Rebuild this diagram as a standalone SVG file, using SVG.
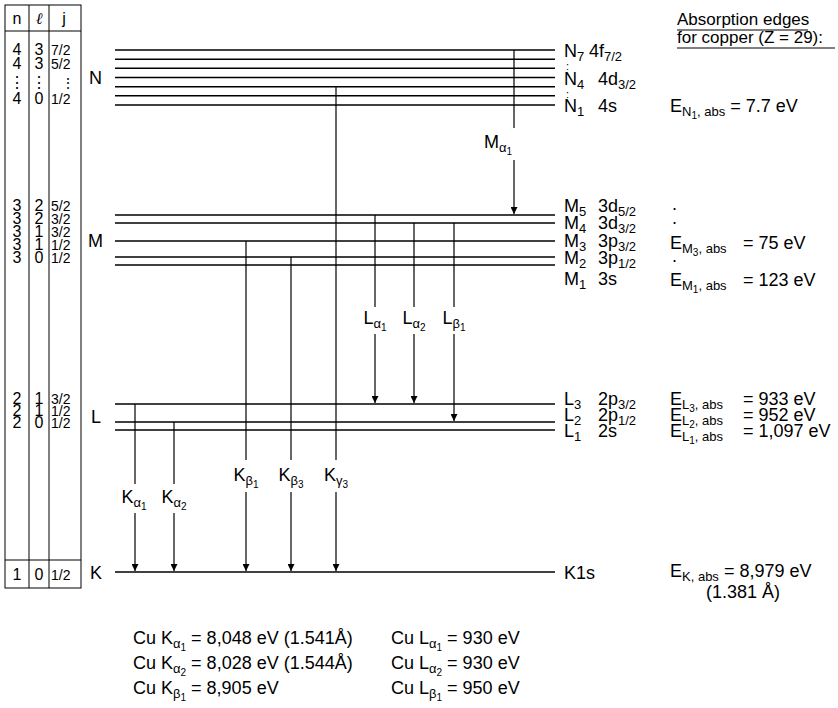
<svg xmlns="http://www.w3.org/2000/svg" width="838" height="708" viewBox="0 0 838 708">
<defs>
<style>
text{font-family:"Liberation Sans",Arial,sans-serif;fill:#000}
.t{font-size:18px}
.h{font-size:17px}
.tb{font-size:16px}
.tj{font-size:14px}
.lv{stroke:#000;stroke-width:1.5;fill:none}
.tr{stroke:#000;stroke-width:1.2;fill:none}
.ar{stroke:#000;stroke-width:1.2;fill:none;marker-end:url(#ah)}
.bx{stroke:#000;stroke-width:1;fill:none}
</style>
<marker id="ah" viewBox="0 0 10 10" refX="10" refY="5" markerWidth="7" markerHeight="7" markerUnits="userSpaceOnUse" orient="auto">
<path d="M0,0 L10,5 L0,10 z" fill="#000"/>
</marker>
</defs>
<rect width="838" height="708" fill="#fff"/>

<g id="table">
<rect class="bx" x="5" y="5" width="76" height="583"/>
<line class="bx" x1="29" y1="5" x2="29" y2="588"/>
<line class="bx" x1="49" y1="5" x2="49" y2="588"/>
<line class="bx" x1="5" y1="31" x2="81" y2="31"/>
<line class="bx" x1="5" y1="560" x2="81" y2="560"/>
<text class="tb" x="17" y="24" text-anchor="middle">n</text>
<text x="39" y="24" text-anchor="middle" style="font-family:'Liberation Serif',serif;font-style:italic;font-size:16px">ℓ</text>
<text class="tb" x="64" y="24" text-anchor="middle">j</text>
<g class="tb" text-anchor="middle">
<text x="17" y="55">4</text><text x="39" y="55">3</text>
<text x="17" y="69">4</text><text x="39" y="69">3</text>
<text x="17" y="88">⋮</text><text x="39" y="88">⋮</text>
<text x="17" y="104">4</text><text x="39" y="104">0</text>
<text x="17" y="211">3</text><text x="39" y="211">2</text>
<text x="17" y="224">3</text><text x="39" y="224">2</text>
<text x="17" y="237">3</text><text x="39" y="237">1</text>
<text x="17" y="250">3</text><text x="39" y="250">1</text>
<text x="17" y="263">3</text><text x="39" y="263">0</text>
<text x="17" y="404">2</text><text x="39" y="404">1</text>
<text x="17" y="416">2</text><text x="39" y="416">1</text>
<text x="17" y="428">2</text><text x="39" y="428">0</text>
<text x="17" y="580">1</text><text x="39" y="580">0</text>
</g>
<g class="tj">
<text x="51" y="55">7/2</text>
<text x="51" y="69">5/2</text>
<text x="61" y="88">⋮</text>
<text x="51" y="104">1/2</text>
<text x="51" y="211">5/2</text>
<text x="51" y="224">3/2</text>
<text x="51" y="237">3/2</text>
<text x="51" y="250">1/2</text>
<text x="51" y="263">1/2</text>
<text x="51" y="404">3/2</text>
<text x="51" y="416">1/2</text>
<text x="51" y="428">1/2</text>
<text x="51" y="580">1/2</text>
</g>
<g class="t">
<text x="89" y="84">N</text>
<text x="88" y="247">M</text>
<text x="91" y="423">L</text>
<text x="90" y="579">K</text>
</g>
</g>

<g id="levels">
<line class="lv" x1="115" y1="50" x2="555" y2="50"/>
<line class="lv" x1="115" y1="59.2" x2="555" y2="59.2"/>
<line class="lv" x1="115" y1="68.3" x2="555" y2="68.3"/>
<line class="lv" x1="115" y1="77.5" x2="555" y2="77.5"/>
<line class="lv" x1="115" y1="86.7" x2="555" y2="86.7"/>
<line class="lv" x1="115" y1="95.8" x2="555" y2="95.8"/>
<line class="lv" x1="115" y1="105" x2="555" y2="105"/>
<line class="lv" x1="115" y1="215" x2="555" y2="215"/>
<line class="lv" x1="115" y1="223" x2="555" y2="223"/>
<line class="lv" x1="115" y1="241" x2="555" y2="241"/>
<line class="lv" x1="115" y1="257" x2="555" y2="257"/>
<line class="lv" x1="115" y1="265" x2="555" y2="265"/>
<line class="lv" x1="115" y1="404" x2="555" y2="404"/>
<line class="lv" x1="115" y1="422" x2="555" y2="422"/>
<line class="lv" x1="115" y1="430" x2="555" y2="430"/>
<line class="lv" x1="115" y1="572" x2="555" y2="572"/>
</g>

<g id="level-labels" class="t">
<text x="564" y="57">N<tspan font-size="13" dy="4">7</tspan><tspan dy="-4" x="589">4f</tspan><tspan font-size="13" dy="4">7/2</tspan></text>
<text x="566" y="70" font-size="11">:</text>
<text x="564" y="85">N<tspan font-size="13" dy="4">4</tspan><tspan dy="-4" x="598">4d</tspan><tspan font-size="13" dy="4">3/2</tspan></text>
<text x="566" y="98" font-size="11">:</text>
<text x="564" y="112">N<tspan font-size="13" dy="4">1</tspan><tspan dy="-4" x="598">4s</tspan></text>
<text x="564" y="212">M<tspan font-size="13" dy="4">5</tspan><tspan dy="-4" x="598">3d</tspan><tspan font-size="13" dy="4">5/2</tspan></text>
<text x="564" y="229">M<tspan font-size="13" dy="4">4</tspan><tspan dy="-4" x="598">3d</tspan><tspan font-size="13" dy="4">3/2</tspan></text>
<text x="564" y="247">M<tspan font-size="13" dy="4">3</tspan><tspan dy="-4" x="598">3p</tspan><tspan font-size="13" dy="4">3/2</tspan></text>
<text x="564" y="264">M<tspan font-size="13" dy="4">2</tspan><tspan dy="-4" x="598">3p</tspan><tspan font-size="13" dy="4">1/2</tspan></text>
<text x="564" y="285">M<tspan font-size="13" dy="4">1</tspan><tspan dy="-4" x="598">3s</tspan></text>
<text x="564" y="405">L<tspan font-size="13" dy="4">3</tspan><tspan dy="-4" x="598">2p</tspan><tspan font-size="13" dy="4">3/2</tspan></text>
<text x="564" y="421">L<tspan font-size="13" dy="4">2</tspan><tspan dy="-4" x="598">2p</tspan><tspan font-size="13" dy="4">1/2</tspan></text>
<text x="564" y="437">L<tspan font-size="13" dy="4">1</tspan><tspan dy="-4" x="598">2s</tspan></text>
<text x="564" y="579">K1s</text>
</g>

<g id="absorption" class="t">
<text class="h" x="677" y="25">Absorption edges</text>
<line class="bx" x1="677" y1="30" x2="808" y2="30"/>
<text class="h" x="677" y="43">for copper (Z = 29):</text>
<line class="bx" x1="677" y1="48" x2="835" y2="48"/>
<text x="670" y="112">E<tspan font-size="13" dy="4">N</tspan><tspan font-size="10" dy="3">1</tspan><tspan font-size="13" dy="-3">, abs</tspan><tspan dy="-4"> = 7.7 eV</tspan></text>
<text x="672" y="210">.</text>
<text x="672" y="224">.</text>
<text x="670" y="249">E<tspan font-size="13" dy="4">M</tspan><tspan font-size="10" dy="3">3</tspan><tspan font-size="13" dy="-3">, abs</tspan><tspan dy="-4" x="743">= 75 eV</tspan></text>
<text x="672" y="262">.</text>
<text x="670" y="286">E<tspan font-size="13" dy="4">M</tspan><tspan font-size="10" dy="3">1</tspan><tspan font-size="13" dy="-3">, abs</tspan><tspan dy="-4" x="743">= 123 eV</tspan></text>
<text x="670" y="405">E<tspan font-size="13" dy="4">L</tspan><tspan font-size="10" dy="3">3</tspan><tspan font-size="13" dy="-3">, abs</tspan><tspan dy="-4" x="743">= 933 eV</tspan></text>
<text x="670" y="421">E<tspan font-size="13" dy="4">L</tspan><tspan font-size="10" dy="3">2</tspan><tspan font-size="13" dy="-3">, abs</tspan><tspan dy="-4" x="743">= 952 eV</tspan></text>
<text x="670" y="437">E<tspan font-size="13" dy="4">L</tspan><tspan font-size="10" dy="3">1</tspan><tspan font-size="13" dy="-3">, abs</tspan><tspan dy="-4" x="743">= 1,097 eV</tspan></text>
<text x="670" y="577">E<tspan font-size="13" dy="4">K, abs</tspan><tspan dy="-4"> = 8,979 eV</tspan></text>
<text x="706" y="598">(1.381 Å)</text>
</g>

<g id="connectors">
<line class="tr" x1="135" y1="404" x2="135" y2="484"/>
<line class="ar" x1="135" y1="513" x2="135" y2="571"/>
<line class="tr" x1="174" y1="422" x2="174" y2="484"/>
<line class="ar" x1="174" y1="513" x2="174" y2="571"/>
<line class="tr" x1="246" y1="241" x2="246" y2="460"/>
<line class="ar" x1="246" y1="492" x2="246" y2="571"/>
<line class="tr" x1="291" y1="257" x2="291" y2="460"/>
<line class="ar" x1="291" y1="492" x2="291" y2="571"/>
<line class="tr" x1="336" y1="86.7" x2="336" y2="460"/>
<line class="ar" x1="336" y1="492" x2="336" y2="571"/>
<line class="tr" x1="375" y1="215" x2="375" y2="307"/>
<line class="ar" x1="375" y1="334" x2="375" y2="403"/>
<line class="tr" x1="414" y1="223" x2="414" y2="307"/>
<line class="ar" x1="414" y1="334" x2="414" y2="403"/>
<line class="tr" x1="454" y1="223" x2="454" y2="307"/>
<line class="ar" x1="454" y1="334" x2="454" y2="421"/>
<line class="tr" x1="514" y1="50" x2="514" y2="128"/>
<line class="ar" x1="514" y1="160" x2="514" y2="214"/>
</g>

<g id="transition-labels" class="t" text-anchor="middle">
<text x="498" y="148">M<tspan font-size="13" dy="4">α</tspan><tspan font-size="10" dy="3">1</tspan></text>
<text x="375" y="324">L<tspan font-size="13" dy="4">α</tspan><tspan font-size="10" dy="3">1</tspan></text>
<text x="414" y="324">L<tspan font-size="13" dy="4">α</tspan><tspan font-size="10" dy="3">2</tspan></text>
<text x="454" y="324">L<tspan font-size="13" dy="4">β</tspan><tspan font-size="10" dy="3">1</tspan></text>
<text x="134" y="503">K<tspan font-size="13" dy="4">α</tspan><tspan font-size="10" dy="3">1</tspan></text>
<text x="174" y="503">K<tspan font-size="13" dy="4">α</tspan><tspan font-size="10" dy="3">2</tspan></text>
<text x="246" y="481">K<tspan font-size="13" dy="4">β</tspan><tspan font-size="10" dy="3">1</tspan></text>
<text x="291" y="481">K<tspan font-size="13" dy="4">β</tspan><tspan font-size="10" dy="3">3</tspan></text>
<text x="336" y="481">K<tspan font-size="13" dy="4">γ</tspan><tspan font-size="10" dy="3">3</tspan></text>
</g>

<g id="values" class="t">
<text x="133" y="644">Cu K<tspan font-size="13" dy="4">α</tspan><tspan font-size="10" dy="3">1</tspan><tspan dy="-7"> = 8,048 eV (1.541Å)</tspan></text>
<text x="133" y="669">Cu K<tspan font-size="13" dy="4">α</tspan><tspan font-size="10" dy="3">2</tspan><tspan dy="-7"> = 8,028 eV (1.544Å)</tspan></text>
<text x="133" y="694">Cu K<tspan font-size="13" dy="4">β</tspan><tspan font-size="10" dy="3">1</tspan><tspan dy="-7"> = 8,905 eV</tspan></text>
<text x="391" y="644">Cu L<tspan font-size="13" dy="4">α</tspan><tspan font-size="10" dy="3">1</tspan><tspan dy="-7"> = 930 eV</tspan></text>
<text x="391" y="669">Cu L<tspan font-size="13" dy="4">α</tspan><tspan font-size="10" dy="3">2</tspan><tspan dy="-7"> = 930 eV</tspan></text>
<text x="391" y="694">Cu L<tspan font-size="13" dy="4">β</tspan><tspan font-size="10" dy="3">1</tspan><tspan dy="-7"> = 950 eV</tspan></text>
</g>
</svg>
